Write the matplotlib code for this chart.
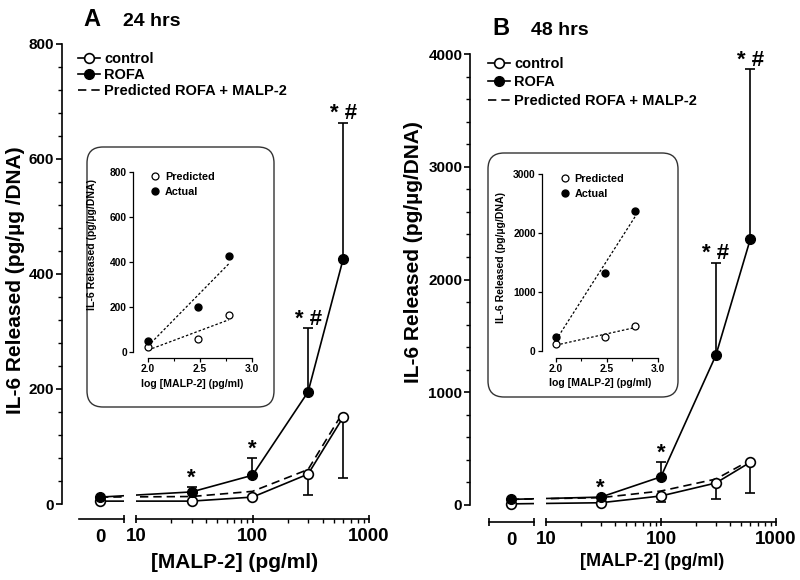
import numpy as np
import matplotlib
matplotlib.use('Agg')
import matplotlib.pyplot as plt
from matplotlib.patches import FancyBboxPatch
from matplotlib.ticker import MultipleLocator, FixedLocator, NullLocator

plt.rcParams['font.family'] = ['Liberation Sans', 'DejaVu Sans']
plt.rcParams['font.weight'] = 'bold'
plt.rcParams['axes.labelweight'] = 'bold'

# ---------------- data ----------------
dose = [0, 30, 100, 300, 600]
major_dose_ticks = [10, 100, 1000]
major_dose_labels = ['10', '100', '1000']
zero_label = '0'

a_control = [5, 5, 12, 52, 151]
a_control_err = [0, 0, 0, 36, 106]
a_rofa = [12, 21, 50, 195, 426]
a_rofa_err = [0, 9, 30, 111, 237]
a_pred = [12, 13, 22, 60, 160]
a_marks = ['', '*', '*', '* #', '* #']

b_control = [10, 20, 80, 195, 380]
b_control_err = [0, 0, 55, 140, 275]
b_rofa = [50, 70, 250, 1327, 2363]
b_rofa_err = [0, 0, 130, 823, 1504]
b_pred = [50, 65, 124, 230, 398]
b_marks = ['', '*', '*', '* #', '* #']

inset_logdose = [2.0, 2.477, 2.778]
a_inset_pred = [21, 59, 163]
a_inset_actual = [47, 198, 425]
b_inset_pred = [119, 232, 430]
b_inset_actual = [243, 1319, 2377]

series_labels = ['control', 'ROFA', 'Predicted ROFA + MALP-2']
inset_labels = ['Predicted', 'Actual']

W, H = 800, 580
fig = plt.figure(figsize=(W / 100, H / 100), dpi=100)


def fr(x0, y0, x1, y1):
    return [x0 / W, 1 - y1 / H, (x1 - x0) / W, (y1 - y0) / H]


def make_scale(z0):
    def fwd(x):
        x = np.asarray(x, float)
        return np.where(x >= 10, np.log10(np.maximum(x, 10)), z0 + x * (1 - z0) / 10)

    def inv(p):
        p = np.asarray(p, float)
        return np.where(p >= 1, 10 ** np.clip(p, 1, 300), (p - z0) * 10 / (1 - z0))
    return fwd, inv


def panel(cfg, control, control_err, rofa, rofa_err, pred, marks,
          ins_pred, ins_act):
    ax = fig.add_axes(fr(*cfg['main']))
    fwd, inv = make_scale(cfg['z0'])
    ax.set_xscale('function', functions=(fwd, inv))
    ax.set_xlim(cfg['xleft'], 1000)
    ax.set_ylim(0, cfg['ymax'])
    for s in ['top', 'right', 'bottom']:
        ax.spines[s].set_visible(False)
    ax.spines['left'].set_linewidth(1.2)
    ax.tick_params(axis='x', which='both', bottom=False, labelbottom=False)
    ax.xaxis.set_minor_locator(NullLocator())
    ax.yaxis.set_major_locator(MultipleLocator(cfg['ymajor']))
    ax.yaxis.set_minor_locator(MultipleLocator(cfg['yminor']))
    ax.tick_params(axis='y', which='major', direction='out', length=4.5,
                   width=1.2, labelsize=11, pad=1)
    ax.tick_params(axis='y', which='minor', direction='out', length=3, width=1.0)
    for lab in ax.get_yticklabels():
        lab.set_fontweight('bold')

    lc, = ax.plot(dose, control, '-o', color='k', mfc='white', mec='k', mew=1.2,
                  ms=7, lw=1.2, clip_on=False, zorder=4, label=series_labels[0])
    lr, = ax.plot(dose, rofa, '-o', color='k', mfc='k', mec='k', ms=7, lw=1.2,
                  clip_on=False, zorder=4, label=series_labels[1])
    lp, = ax.plot(dose, pred, color='k', lw=1.2, dashes=(5, 3), clip_on=False,
                  zorder=3, label=series_labels[2])

    # one-sided error bars
    xe = [d for d, e in zip(dose, rofa_err) if e > 0]
    ye = [v for v, e in zip(rofa, rofa_err) if e > 0]
    ee = [e for e in rofa_err if e > 0]
    ax.errorbar(xe, ye, yerr=[np.zeros(len(ee)), ee], fmt='none', ecolor='k',
                elinewidth=1.2, capsize=3.5, capthick=1.2, zorder=2, clip_on=False)
    xe = [d for d, e in zip(dose, control_err) if e > 0]
    ye = [v for v, e in zip(control, control_err) if e > 0]
    ee = [e for e in control_err if e > 0]
    ax.errorbar(xe, ye, yerr=[ee, np.zeros(len(ee))], fmt='none', ecolor='k',
                elinewidth=1.2, capsize=3.5, capthick=1.2, zorder=2, clip_on=False)

    for d, v, e, m in zip(dose, rofa, rofa_err, marks):
        if m:
            ax.annotate(m, xy=(d, v + e), xytext=(0, 2.5), textcoords='offset points',
                        ha='center', va='baseline', fontsize=16, fontweight='bold',
                        annotation_clip=False)

    # break in the lines between the 0 and 10 segments
    ax.axvspan(cfg['gap'], 10, ymin=0, ymax=0.12, color='white', lw=0, zorder=5)

    ax.legend(handles=[lc, lr, lp], loc='upper left',
              bbox_to_anchor=cfg['leg_anchor'], frameon=False,
              borderpad=0, borderaxespad=0, handlelength=1.5,
              handletextpad=0.3, labelspacing=cfg['leg_sp'],
              prop={'size': 10.5, 'weight': 'bold'})

    # broken x axis
    y_ax = cfg['xaxis_y']
    l0, l1, llo, lhi, lend = cfg['xseg_left']
    axl = fig.add_axes([l0 / W, 1 - y_ax / H, (l1 - l0) / W, 1e-4])
    axl.set_xlim(llo, lhi)
    axl.patch.set_alpha(0)
    for s in ['top', 'right', 'left']:
        axl.spines[s].set_visible(False)
    axl.spines['bottom'].set_linewidth(1.2)
    axl.set_yticks([])
    axl.set_xticks([0], [zero_label])
    axl.xaxis.set_minor_locator(FixedLocator(lend))
    axl.tick_params(axis='x', which='major', length=0, labelsize=13.5, pad=7)
    axl.tick_params(axis='x', which='minor', direction='inout', length=6, width=1.2)
    for lab in axl.get_xticklabels():
        lab.set_fontweight('bold')

    r0, r1 = cfg['xseg_right']
    axr = fig.add_axes([r0 / W, 1 - y_ax / H, (r1 - r0) / W, 1e-4])
    axr.set_xscale('log')
    axr.set_xlim(10, 1000)
    axr.patch.set_alpha(0)
    for s in ['top', 'right', 'left']:
        axr.spines[s].set_visible(False)
    axr.spines['bottom'].set_linewidth(1.2)
    axr.set_yticks([])
    axr.set_xticks(major_dose_ticks, major_dose_labels)
    axr.xaxis.set_minor_locator(FixedLocator(
        [k * 10 for k in range(2, 10)] + [k * 100 for k in range(2, 10)]))
    axr.tick_params(axis='x', which='major', direction='inout', length=6,
                    width=1.2, labelsize=13.5, pad=3.5)
    axr.tick_params(axis='x', which='minor', direction='out', length=3, width=1.0,
                    labelbottom=False)
    for lab in axr.get_xticklabels():
        lab.set_fontweight('bold')

    # labels and titles
    xl = cfg['xlabel']
    fig.text(xl[0] / W, 1 - xl[1] / H, '[MALP-2] (pg/ml)', ha='center', va='center',
             fontsize=xl[2], fontweight='bold')
    yl = cfg['ylabel']
    fig.text(yl[0] / W, 1 - yl[1] / H, yl[2], ha='center', va='center',
             rotation=90, fontsize=15, fontweight='bold')
    t = cfg['title']
    fig.text(t[0] / W, 1 - t[2] / H, t[3], ha='left', va='baseline',
             fontsize=17, fontweight='bold')
    fig.text(t[1] / W, 1 - t[2] / H, t[4], ha='left', va='baseline',
             fontsize=14, fontweight='bold')

    # inset
    bx = cfg['box']
    box = FancyBboxPatch((bx[0] / W, 1 - bx[3] / H), (bx[2] - bx[0]) / W,
                         (bx[3] - bx[1]) / H,
                         boxstyle='round,pad=0,rounding_size=%f' % (16 / W),
                         mutation_aspect=W / H, transform=fig.transFigure,
                         facecolor='white', edgecolor='#333333', lw=1.0, zorder=1)
    fig.patches.append(box)

    ia = cfg['inset']
    axi = fig.add_axes(fr(*ia['box']))
    axi.set_zorder(6)
    axi.patch.set_alpha(0)
    axi.set_xlim(ia['xleft'], 3.0)
    axi.set_ylim(0, ia['ymax'])
    for s in ['top', 'right']:
        axi.spines[s].set_visible(False)
    axi.spines['bottom'].set_position(('outward', ia['xoff']))
    axi.spines['bottom'].set_bounds(2.0, 3.0)
    for s in ['bottom', 'left']:
        axi.spines[s].set_linewidth(0.9)
    axi.set_xticks([2.0, 2.5, 3.0], ['2.0', '2.5', '3.0'])
    axi.xaxis.set_minor_locator(FixedLocator([2.25, 2.75]))
    axi.set_yticks(ia['yticks'])
    axi.tick_params(which='major', direction='out', length=3, width=0.9,
                    labelsize=7.4, pad=1.5)
    axi.tick_params(which='minor', direction='out', length=2, width=0.8)
    for lab in axi.get_xticklabels() + axi.get_yticklabels():
        lab.set_fontweight('bold')

    xs = np.array(inset_logdose)
    for vals in (ins_pred, ins_act):
        k, b0 = np.polyfit(xs, np.array(vals, float), 1)
        axi.plot([xs.min(), xs.max()], [k * xs.min() + b0, k * xs.max() + b0],
                 color='k', lw=0.9, dashes=(2, 1.6), zorder=2)
    hp, = axi.plot(inset_logdose, ins_pred, 'o', mfc='white', mec='k', mew=0.9,
                   ms=5, clip_on=False, zorder=3, label=inset_labels[0])
    ha, = axi.plot(inset_logdose, ins_act, 'o', mfc='k', mec='k', ms=5,
                   clip_on=False, zorder=3, label=inset_labels[1])
    axi.legend(handles=[hp, ha], loc='upper left', bbox_to_anchor=ia['leg_anchor'],
               frameon=False, borderpad=0, borderaxespad=0, handlelength=1.0,
               handletextpad=0.4, labelspacing=0.45,
               prop={'size': 7.8, 'weight': 'bold'})
    axi.set_xlabel('log [MALP-2] (pg/ml)', fontsize=7.6, fontweight='bold', labelpad=3)
    axi.set_ylabel(cfg['inset_ylabel'], fontsize=7.6, fontweight='bold')
    axi.yaxis.set_label_coords(ia['ylab'][0], ia['ylab'][1])
    return ax


cfgA = dict(main=(62, 44, 369, 504), z0=0.691, xleft=-10.55, ymax=800,
            ymajor=200, yminor=40, gap=6.6,
            leg_anchor=((78 - 62) / 307, (504 - 52) / 460), leg_sp=0.15,
            xaxis_y=519, xseg_left=(79, 124, -21, 24, [24]), xseg_right=(136, 369),
            xlabel=(235, 562, 15), ylabel=(16, 280, 'IL-6 Released (pg/\u00b5g /DNA)'),
            title=(83, 123, 26, 'A', '24 hrs'),
            box=(87, 147, 274, 407),
            inset=dict(box=(133, 172, 252, 352), xleft=1.856, ymax=800,
                       yticks=[0, 200, 400, 600, 800], xoff=4.5,
                       leg_anchor=(0.14, 1.0), ylab=(-0.30, 0.6)),
            inset_ylabel='IL-6 Released (pg/\u00b5g/DNA)')

cfgB = dict(main=(470, 54, 776, 505), z0=0.696, xleft=-11.7, ymax=4000,
            ymajor=1000, yminor=200, gap=6.6,
            leg_anchor=((488 - 470) / 306, (505 - 57) / 451), leg_sp=0.3,
            xaxis_y=522, xseg_left=(489, 534, -22, 23, [-22, 23]), xseg_right=(546, 776),
            xlabel=(652, 562, 13), ylabel=(414, 252, 'IL-6 Released (pg/\u00b5g/DNA)'),
            title=(492, 531, 35, 'B', '48 hrs'),
            box=(488, 153, 678, 397),
            inset=dict(box=(542, 174, 658, 351), xleft=1.863, ymax=3000,
                       yticks=[0, 1000, 2000, 3000], xoff=5,
                       leg_anchor=(0.15, 1.0), ylab=(-0.31, 0.53)),
            inset_ylabel='IL-6 Released (pg/\u00b5g/DNA)')

panel(cfgA, a_control, a_control_err, a_rofa, a_rofa_err, a_pred, a_marks,
      a_inset_pred, a_inset_actual)
panel(cfgB, b_control, b_control_err, b_rofa, b_rofa_err, b_pred, b_marks,
      b_inset_pred, b_inset_actual)

fig.savefig('out.png', dpi=100)
